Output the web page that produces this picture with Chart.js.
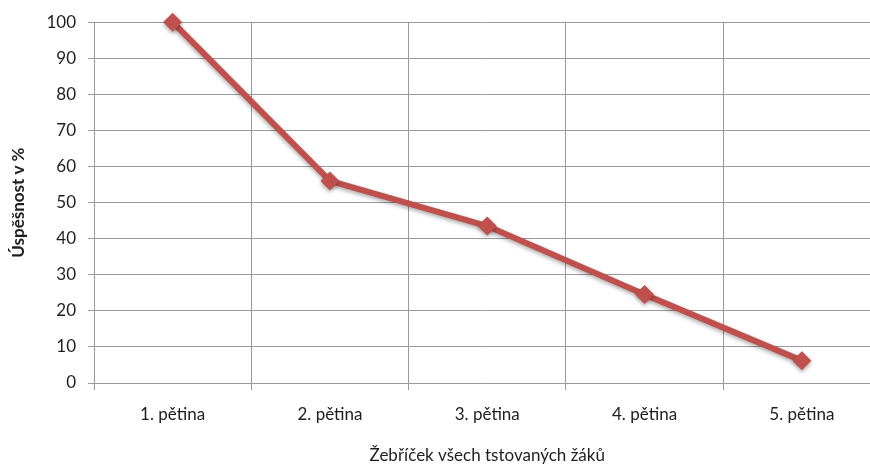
<!DOCTYPE html>
<html>
<head>
<meta charset="utf-8">
<script src="https://cdn.jsdelivr.net/npm/chart.js@4/dist/chart.umd.min.js"></script>
<style>
  html, body { margin: 0; padding: 0; background: #fff; overflow: hidden; }
  #wrap { width: 890px; height: 464px; }
</style>
</head>
<body>
<div id="wrap"><canvas id="c" width="890" height="464"></canvas></div>
<script>
// Categories and values
const categories = ['1. pětina', '2. pětina', '3. pětina', '4. pětina', '5. pětina'];
const successRate = [100, 56, 43.5, 24.5, 6.2];
const yTicks = [0, 10, 20, 30, 40, 50, 60, 70, 80, 90, 100];

const xTitle = 'Žebříček všech tstovaných žáků';
const yTitle = 'Úspěšnost v %';

const FONT = 'Lato, "Open Sans", "Liberation Sans", sans-serif';
const GRID = '#9b9b9b';
const RED = '#C0504D';
const TEXT = '#1e1e1e';

// soft drop shadow under the series
const shadowPlugin = {
  id: 'seriesShadow',
  beforeDatasetDraw(chart) {
    const ctx = chart.ctx;
    ctx.save();
    ctx.shadowColor = 'rgba(0,0,0,0.35)';
    ctx.shadowBlur = 4;
    ctx.shadowOffsetX = 0;
    ctx.shadowOffsetY = 2;
  },
  afterDatasetDraw(chart) {
    chart.ctx.restore();
  }
};

new Chart(document.getElementById('c'), {
  type: 'line',
  data: {
    labels: categories,
    datasets: [{
      data: successRate,
      borderColor: RED,
      borderWidth: 6,
      backgroundColor: RED,
      pointStyle: 'rectRot',
      pointRadius: 9.5,
      pointBorderWidth: 0,
      pointBackgroundColor: RED,
      tension: 0,
      fill: false,
      clip: false
    }]
  },
  options: {
    responsive: false,
    animation: false,
    layout: { padding: { top: 22, right: 8, left: 0, bottom: 0 } },
    plugins: { legend: { display: false }, tooltip: { enabled: false } },
    scales: {
      x: {
        offset: true,
        grid: { offset: true, color: GRID, lineWidth: 1, tickLength: 7, drawTicks: true },
        border: { color: GRID, width: 1 },
        ticks: { color: TEXT, font: { family: FONT, size: 17 }, padding: 14, maxRotation: 0 },
        title: {
          display: true, text: xTitle, color: TEXT,
          font: { family: FONT, size: 17, lineHeight: 1 },
          padding: { top: 0, bottom: 0 }
        },
        afterFit(s) { s.height = 81; }
      },
      y: {
        min: 0, max: 100,
        afterBuildTicks(s) { s.ticks = yTicks.map(v => ({ value: v })); },
        grid: { color: GRID, lineWidth: 1, tickLength: 6, drawTicks: true },
        border: { color: GRID, width: 1 },
        ticks: { color: TEXT, font: { family: FONT, size: 17 }, padding: 12 },
        title: {
          display: true, text: yTitle, color: TEXT,
          font: { family: FONT, size: 17, weight: 'bold', lineHeight: 1.2 },
          padding: { top: 8, bottom: 0 }
        },
        afterFit(s) { s.width = 94; }
      }
    }
  },
  plugins: [shadowPlugin]
});
</script>
</body>
</html>
